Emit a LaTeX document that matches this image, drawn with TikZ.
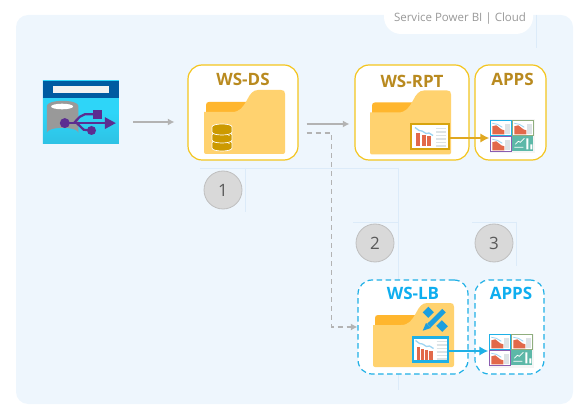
\documentclass[tikz,border=0pt]{standalone}
\usepackage{fontspec}
\setmainfont{Open Sans}
\usetikzlibrary{calc}
\usetikzlibrary{shapes,arrows.meta}
\usetikzlibrary{positioning}
\definecolor{panelbg}{HTML}{EEF6FD}
\definecolor{hairline}{HTML}{DCEBF9}
\definecolor{goldline}{HTML}{F4C51E}
\definecolor{goldtext}{HTML}{B98A1F}
\definecolor{goldthumb}{HTML}{D8A40E}
\definecolor{goldarrow}{HTML}{E0A820}
\definecolor{bluetext}{HTML}{0FAEEF}
\definecolor{bluethumb}{HTML}{1FB0E6}
\definecolor{toolblue}{HTML}{1C9FDF}
\definecolor{folderbody}{HTML}{FFD26F}
\definecolor{foldertab}{HTML}{FFB62E}
\definecolor{dbgold}{HTML}{CC9A00}
\definecolor{usbpurple}{HTML}{5C2D91}
\definecolor{usbtop}{HTML}{2ED5F8}
\definecolor{usbbottom}{HTML}{2EC2E4}
\definecolor{usbband}{HTML}{005BA1}
\definecolor{barred}{HTML}{E2694A}
\definecolor{wavyblue}{HTML}{9CD4F2}
\definecolor{sidegray}{HTML}{DDE3E6}
\definecolor{flowgray}{HTML}{B3B3B3}
\definecolor{cellgreen}{HTML}{8FAE7E}
\definecolor{cellpurple}{HTML}{8A5DB0}
\definecolor{cellteal}{HTML}{5DB8A8}
\tikzset{
  wsbox/.style={draw=goldline, fill=white, line width=1.2pt, rounded corners=14pt, inner sep=0pt},
  lbbox/.style={draw=bluethumb, fill=white, line width=1.2pt, dash pattern=on 5.5pt off 3.5pt, rounded corners=14pt, inner sep=0pt},
  wstitle/.style={font=\fontsize{17}{19}\selectfont\bfseries, inner sep=0pt},
  stepmark/.style={circle, draw=black!25, fill=black!15, line width=0.8pt, minimum size=38pt, inner sep=0pt, text=black!65, font=\fontsize{17}{19}\selectfont},
  thumb/.style={draw=#1, fill=white, line width=2.8pt, inner sep=0pt},
  grid/.style={inner sep=0pt, fill=black!4},
  flow/.style={draw=flowgray, line width=1.3pt, -{Latex[length=6.5pt,width=7pt]}},
  publish/.style={draw=#1, line width=2pt, -{Latex[length=9pt,width=9.5pt]}},
  hair/.style={draw=hairline, line width=0.7pt},
  pics/folder/.style={code={
    \fill[foldertab] (2,24) -- (2,15) .. controls (2,13) and (3,12) .. (5,12) -- (42,12) -- (42,24) -- cycle;
    \fill[folderbody] (0,22) -- (28,22) .. controls (36,22) and (39,17) .. (43,10) .. controls (46,4) and (49,0) .. (54,0) -- (77,0) .. controls (80,0) and (81,1) .. (81,4) -- (81,62) .. controls (81,63) and (80,64) .. (79,64) -- (2,64) .. controls (1,64) and (0,63) .. (0,62) -- cycle;
  }},
  pics/reportmarks/.style={code={
    \foreach \bx/\bt/\bw in {#1}
      \fill[barred] (\bx,\bt) rectangle ++(\bw,10-\bt);
    \draw[wavyblue, line width=1.3pt] (-15,-9) -- (-11,-6) -- (-8,-5.5) -- (-4,-3) -- (-1,-3.5) -- (3,-1);
    \foreach \ly in {-8,-4.5,-1,2.5,6,9.5}
      \draw[sidegray, line width=1.6pt] (6,\ly) -- (16,\ly);
  }},
  pics/minicell/.style={code={
    \fill[white] (0,0) rectangle (21,15);
    \fill[barred] (2,6) -- (6,5) -- (11,9) -- (14,10) -- (14,14) -- (2,14) -- cycle;
    \fill[sidegray] (15,4) rectangle (20,14);
    \draw[wavyblue, line width=0.8pt] (2,3) -- (7,4) -- (12,7);
    \draw[#1, line width=1.1pt] (0,0) rectangle (21,15);
  }},
  pics/appsgrid/.style={code={
    \pic at (1,1) {minicell=bluethumb};
    \pic at (23,1) {minicell=cellgreen};
    \pic at (1,17) {minicell=cellpurple};
    \fill[cellteal] (23,17) rectangle (44,32);
    \draw[white, line width=0.8pt] (25,28) -- (34,28) (26,25) -- (29,22) -- (31,23) -- (35,19);
    \fill[white] (37,19) rectangle (39,30) (41,25) rectangle (43,30);
  }},
  pics/dbstack/.style={code={
    \foreach \dy in {16,8,0}
      \filldraw[fill=dbgold, draw=white, line width=0.7pt] (0,\dy+3) .. controls (0,\dy-1) and (20,\dy-1) .. (20,\dy+3) -- (20,\dy+8) .. controls (20,\dy+12) and (0,\dy+12) .. (0,\dy+8) -- cycle;
    \fill[white] (17,11.5) circle (0.7) (17,19.5) circle (0.7);
  }},
  pics/usbsource/.style={code={
    \fill[top color=usbtop, bottom color=usbbottom, middle color=usbtop] (0,0) rectangle (76,63);
    \fill[usbband] (0,0) rectangle (76,17);
    \fill[black!5] (10,5) rectangle (66,12);
    \fill[black!40] (4,25) -- (4,52) arc[start angle=180, end angle=0, x radius=15.8, y radius=-5] -- (35.6,25) arc[start angle=0, end angle=180, x radius=15.8, y radius=-5] -- cycle;
    \fill[white] (19.3,25.7) ellipse (11 and 2.8);
    \draw[usbpurple, line width=2.2pt] (22,42.3) -- (64,42.3);
    \draw[usbpurple, line width=2.2pt] (31,42.3) -- (37,36) -- (42,33.5) -- (52,33.5);
    \draw[usbpurple, line width=2.2pt] (34,42.3) -- (41,49) -- (48,49.5);
    \fill[usbpurple] (22,42.3) circle (5);
    \fill[usbpurple] (48.7,49.7) circle (4.5);
    \fill[usbpurple] (50.3,29.7) rectangle (58.7,38);
    \fill[usbpurple] (62,36.3) -- (73,42.3) -- (62,48.3) -- cycle;
  }},
  pics/designtools/.style={code={
    \draw[toolblue, line width=8pt] (3.5,4.5) -- (9,10);
    \draw[toolblue, line width=8pt] (17,18) -- (23,24);
    \draw[folderbody, line width=7.5pt] (22,5.7) -- (7,20.5);
    \draw[toolblue, line width=5pt] (22,5.7) -- (7,20.5);
    \fill[toolblue] (4,18) -- (0.7,25.7) -- (9,23) -- cycle;
  }},
}
\begin{document}
\begin{tikzpicture}[x=1pt, y=-1pt]
  \useasboundingbox (0,0) rectangle (588,419);
  \fill[panelbg, rounded corners=12pt] (16,15) rectangle (573,404);
  \fill[white, rounded corners=17pt] (384,-20) rectangle (533,34);
  \node[text=black!40, font=\fontsize{11.5}{13}\selectfont, inner sep=0pt] (cloud) at (460,19) {Service Power BI | Cloud};

  \path[hair] (200,168) -- (398,168) (245,168) -- (245,212) (398,168) -- (398,390);
  \path[hair] (472,222) -- (516,222) (516,222) -- (516,266) (353,222) -- (398,222) (536,15) -- (536,48);

  \node[minimum width=76pt, minimum height=63pt, inner sep=0pt] (src) at (81,112.5) {};
  \pic at (src.north west) {usbsource};

  \node[wsbox, minimum width=110pt, minimum height=95pt] (wsds) at (243,112.5) {};
  \node[wsbox, minimum width=114pt, minimum height=95pt] (wsrpt) at (412,112.5) {};
  \node[wsbox, minimum width=71pt, minimum height=95pt] (appsrpt) at (510.5,112.5) {};
  \node[lbbox, minimum width=110pt, minimum height=94pt] (wslb) at (413,327) {};
  \node[lbbox, minimum width=69pt, minimum height=94pt] (appslb) at (509.5,327) {};

  \node[wstitle, text=goldtext, below=8.5pt of wsds.north] (wsdstitle) {WS-DS};
  \node[wstitle, text=goldtext, below=10.5pt of wsrpt.north] (wsrpttitle) {WS-RPT};
  \node[wstitle, text=goldtext, below=8.5pt of appsrpt.north, xshift=2pt] (appsrpttitle) {APPS};
  \node[wstitle, text=bluetext, below=8pt of wslb.north] (wslbtitle) {WS-LB};
  \node[wstitle, text=bluetext, below=8pt of appslb.north, xshift=1.5pt] (appslbtitle) {APPS};

  \pic at (204,90) {folder};
  \pic at (370,90.5) {folder};
  \pic at (373,303) {folder};

  \pic at (212,124) {dbstack};
  \pic at (422,305) {designtools};

  \node[thumb=goldthumb, minimum width=38pt, minimum height=25pt] (rptthumb) at (430,136.5) {};
  \pic at (rptthumb.center) {reportmarks={-14/-3/4.2,-8.5/-1.5/4.2,-3/-0.5/4.2}};
  \node[thumb=bluethumb, minimum width=35pt, minimum height=24pt] (lbthumb) at (430.5,349.5) {};
  \pic at (lbthumb.center) {reportmarks={-14/-3/3.2,-9.7/-1/3.2,-5.4/0/3.2,-1.1/1/3.2}};

  \node[grid, minimum width=45pt, minimum height=34pt] (rptgrid) at (512,136.5) {};
  \pic at (rptgrid.north west) {appsgrid};
  \node[grid, minimum width=45pt, minimum height=34pt] (lbgrid) at (511,350.5) {};
  \pic at (lbgrid.north west) {appsgrid};

  \path[flow, shorten <=14pt, shorten >=13pt] ([yshift=-9.5pt]src.east) -- ([yshift=-9.5pt]wsds.west);
  \path[flow, shorten <=8pt, shorten >=5pt] ([yshift=-11.5pt]wsds.east) -- ([yshift=-11.5pt]wsrpt.west);
  \path[flow, dash pattern=on 5pt off 4pt, shorten <=8pt] ([yshift=-20.5pt]wsds.east) -| ($(wslb.west)+(-26,0)$) -- (wslb.west);
  \path[publish=goldarrow] ([yshift=-1.5pt]rptthumb.east) -- ([yshift=-1.5pt]rptthumb.east -| rptgrid.west);
  \path[publish=bluethumb] ([yshift=-1.5pt]lbthumb.east) -- ([yshift=-1.5pt]lbthumb.east -| lbgrid.west);

  \node[stepmark] (one) at (223,190) {1};
  \node[stepmark] (two) at (375,243) {2};
  \node[stepmark] (three) at (494,243) {3};
\end{tikzpicture}
\end{document}
